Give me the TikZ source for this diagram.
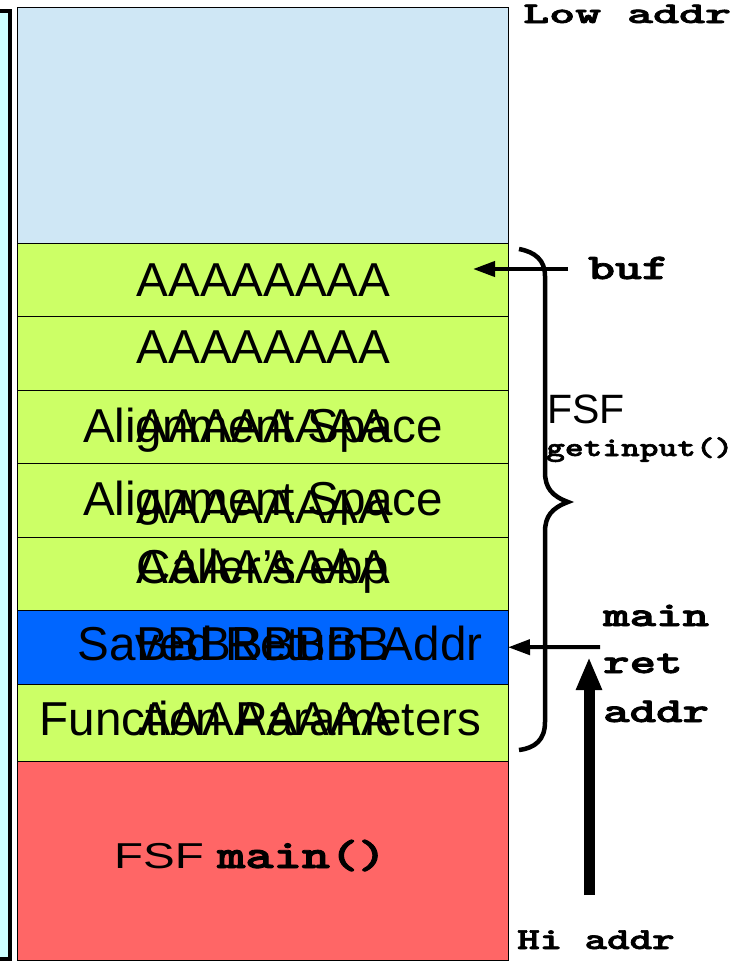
\documentclass[tikz,border=0pt]{standalone}
\usepackage{fontspec}
\usepackage{graphicx}
\setmainfont{Liberation Sans}
\newfontfamily\courfont{lmmonolt10-bold}[Extension=.otf, FakeBold=2]
\usetikzlibrary{arrows.meta}
\definecolor{lowblue}{HTML}{CFE7F5}
\definecolor{cellgreen}{HTML}{CCFF66}
\definecolor{cellblue}{HTML}{0066FF}
\definecolor{cellred}{HTML}{FF6666}
\definecolor{sidecyan}{HTML}{CCFFFF}
\newcommand\monosz[1]{\courfont\fontsize{#1}{#1}\selectfont}
\begin{document}
\begin{tikzpicture}[x=1pt,y=-1pt,
  cell/.style={draw=black, line width=0.9pt, minimum width=491pt, inner sep=0pt, outer sep=0pt},
  big/.style={anchor=base, inner sep=0pt, font=\fontsize{47.6}{47.6}\selectfont},
  lbl/.style={anchor=base west, inner sep=0pt},
  ptr/.style={line width=4pt, -{Triangle[length=22pt,width=15pt]}},
  growarrow/.style={line width=11pt, -{Triangle[length=33pt,width=24pt]}}
]
\useasboundingbox (0,0) rectangle (732,962);
% side box
\filldraw[fill=sidecyan, draw=black, line width=4pt] (-10,11) rectangle (10,958.5);
% stack cells
\node[cell, fill=lowblue, minimum height=235.5pt] (r0) at (262.5,125.25) {};
\node[cell, fill=cellgreen, minimum height=73.5pt] (r1) at (262.5,279.75) {};
\node[cell, fill=cellgreen, minimum height=73.5pt] (r2) at (262.5,353.25) {};
\node[cell, fill=cellgreen, minimum height=73.5pt] (r3) at (262.5,426.75) {};
\node[cell, fill=cellgreen, minimum height=73.5pt] (r4) at (262.5,500.25) {};
\node[cell, fill=cellgreen, minimum height=73.5pt] (r5) at (262.5,573.75) {};
\node[cell, fill=cellblue, minimum height=73.5pt] (r6) at (262.5,647.25) {};
\node[cell, fill=cellgreen, minimum height=77.5pt] (r7) at (262.5,722.75) {};
\node[cell, fill=cellred, minimum height=199pt] (r8) at (262.5,861) {};
% cell texts
\node[big] (t1) at (263.5,296) {AAAAAAAA};
\node[big] (t2) at (263.5,363) {AAAAAAAA};
\node[big] (t3a) at (263,442) {Alignment Space};
\node[big] (t3b) at (263.5,442) {AAAAAAAA};
\node[big] (t4a) at (263,515) {Alignment Space};
\node[big] (t4b) at (263.5,523) {AAAAAAAA};
\node[big] (t5a) at (263,583) {Caller\char"0027{}s ebp};
\node[big] (t5b) at (263.5,583) {AAAAAAAA};
\node[big] (t6a) at (280,660) {Saved Return Addr};
\node[big] (t6b) at (263,660) {BBBBBBBB};
\node[big] (t7a) at (260.5,735) {Function Parameters};
\node[big] (t7b) at (266,735) {AAAAAAAA};
\node[lbl] (fsfmain) at (114,868) {\scalebox{1.32}[1]{\fontsize{36}{36}\selectfont FSF \monosz{40.7}main()}};
% right labels
\node[lbl] (low) at (523,23) {\scalebox{1.65}[1]{\monosz{30}Low addr}};
\node[lbl] (buf) at (588,279) {\scalebox{1.42}[1]{\monosz{36}buf}};
\node[lbl] (fsf) at (547,423) {\fontsize{41}{41}\selectfont FSF};
\node[lbl] (getin) at (546,456) {\scalebox{1.32}[1]{\monosz{27}getinput()}};
\node[lbl] (mainl) at (603,626) {\scalebox{1.44}[1]{\monosz{35}main}};
\node[lbl] (retl) at (603,673) {\scalebox{1.44}[1]{\monosz{35}ret}};
\node[lbl] (addrl) at (603,722) {\scalebox{1.44}[1]{\monosz{35}addr}};
\node[lbl] (hi) at (517,949) {\scalebox{1.4}[1]{\monosz{30.6}Hi addr}};
% brace
\draw[line width=4.5pt] (519,249) .. controls (535,252) and (545,260) .. (545,276)
  -- (545,472) .. controls (545,488) and (552,496) .. (568,502)
  .. controls (552,508) and (545,516) .. (545,532)
  -- (545,722) .. controls (545,740) and (535,748) .. (519,750);
% arrows
\coordinate (bufS) at (568,269);
\coordinate (bufT) at (473,269);
\draw[ptr] (bufS) -- (bufT);
\coordinate (retS) at (600,647);
\draw[ptr] (retS) -- (r6.east);
\coordinate (growS) at (589,895);
\coordinate (growT) at (589,657);
\draw[growarrow] (growS) -- (growT);
\end{tikzpicture}
\end{document}
